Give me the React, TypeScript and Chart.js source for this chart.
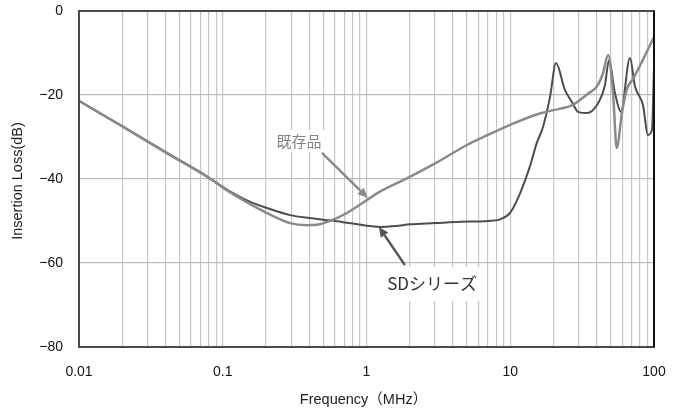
import React, { useEffect, useRef } from 'react';
import { Chart, registerables } from 'chart.js';

Chart.register(...registerables);

// 既存品 (existing product)
const kizonFreq = [0.01, 0.02, 0.043, 0.078, 0.107, 0.15, 0.203, 0.294, 0.386, 0.45, 0.575, 0.73, 1.06, 1.2, 2, 3, 5, 7, 10, 16, 20, 27, 35, 40, 44, 48, 52, 55, 60, 65, 72, 100];
const kizonLoss = [-21.4, -27.5, -34.3, -39.5, -42.7, -45.7, -48.1, -50.5, -51.0, -50.9, -49.8, -48.1, -44.5, -43.3, -39.5, -36.3, -31.9, -29.5, -27.1, -24.4, -23.6, -22.4, -19.6, -18.0, -15.0, -10.5, -20.0, -32.6, -24.0, -18.5, -16.0, -6.2];

// SDシリーズ
const sdFreq = [0.01, 0.02, 0.043, 0.078, 0.107, 0.15, 0.203, 0.294, 0.4, 0.575, 0.8, 1.24, 1.6, 2, 3, 4.5, 7, 8.5, 10, 11.7, 13.7, 15.3, 16.9, 18.9, 20.8, 24, 26.9, 29.6, 34.2, 40.1, 45.6, 48.6, 53.5, 58.9, 68, 73.8, 83.8, 90.7, 96.8, 100];
const sdLoss = [-21.4, -27.4, -34.2, -39.4, -42.5, -45.2, -46.9, -48.6, -49.3, -49.9, -50.6, -51.4, -51.2, -50.8, -50.5, -50.2, -50.0, -49.6, -48.0, -43.4, -37.0, -31.4, -27.6, -20.5, -12.4, -18.8, -21.7, -24.0, -24.3, -22.4, -17.6, -11.7, -19.5, -24.0, -11.2, -18.0, -22.4, -29.5, -28.3, -13.5];

const decadeValues = [0.01, 0.1, 1, 10, 100];
const decadeLabels = ['0.01', '0.1', '1', '10', '100'];
const minorMultipliers = [1, 2, 3, 4, 5, 6, 7, 8, 9];
const yTickValues = [0, -20, -40, -60, -80];

const seriesNames = ['既存品', 'SDシリーズ'];
const xTitle = 'Frequency（MHz）';
const yTitle = 'Insertion Loss(dB)';

// annotation anchors in data units
const kizonLabelAt = { x: 0.339, y: -30.95 };
const kizonArrowFrom = { x: 0.49, y: -33.8 };
const kizonArrowTo = { x: 1.02, y: -44.5 };
const sdLabelAt = { x: 2.86, y: -65.0 };
const sdArrowFrom = { x: 1.85, y: -60.5 };
const sdArrowTo = { x: 1.22, y: -51.4 };

const FONT = '"Liberation Sans", Arial, "Noto Sans CJK JP", sans-serif';
const JFONT = '"Noto Sans CJK JP", "Liberation Sans", sans-serif';

function drawArrow(ctx: CanvasRenderingContext2D, x1: number, y1: number, x2: number, y2: number, color: string, w: number) {
  const ang = Math.atan2(y2 - y1, x2 - x1);
  const hl = 10, hw = 4.5;
  const bx = x2 - hl * Math.cos(ang);
  const by = y2 - hl * Math.sin(ang);
  ctx.strokeStyle = color;
  ctx.fillStyle = color;
  ctx.lineWidth = w;
  ctx.beginPath();
  ctx.moveTo(x1, y1);
  ctx.lineTo(bx, by);
  ctx.stroke();
  ctx.beginPath();
  ctx.moveTo(x2, y2);
  ctx.lineTo(bx + hw * Math.sin(ang), by - hw * Math.cos(ang));
  ctx.lineTo(bx - hw * Math.sin(ang), by + hw * Math.cos(ang));
  ctx.closePath();
  ctx.fill();
}

const overlayPlugin = {
  id: 'overlay',
  afterDatasetsDraw(chart: any) {
    const { ctx, chartArea: a, scales } = chart;
    const xs = scales.x, ys = scales.y;
    ctx.save();
    // frame
    ctx.strokeStyle = '#4a4a4a';
    ctx.lineWidth = 2;
    ctx.strokeRect(a.left, a.top, a.right - a.left, a.bottom - a.top);
    ctx.strokeStyle = '#111';
    ctx.beginPath();
    ctx.moveTo(a.right, a.top);
    ctx.lineTo(a.right, a.bottom);
    ctx.stroke();

    // 既存品 label
    ctx.font = '15px ' + JFONT;
    ctx.textAlign = 'center';
    ctx.textBaseline = 'middle';
    let lx = xs.getPixelForValue(kizonLabelAt.x);
    let ly = ys.getPixelForValue(kizonLabelAt.y);
    let tw = ctx.measureText(seriesNames[0]).width;
    ctx.fillStyle = '#fff';
    ctx.fillRect(lx - tw / 2 - 5, ly - 11, tw + 10, 22);
    ctx.fillStyle = '#858585';
    ctx.fillText(seriesNames[0], lx, ly);
    drawArrow(ctx,
      xs.getPixelForValue(kizonArrowFrom.x), ys.getPixelForValue(kizonArrowFrom.y),
      xs.getPixelForValue(kizonArrowTo.x), ys.getPixelForValue(kizonArrowTo.y),
      '#8a8a8a', 2.5);

    // SD label
    ctx.font = '17px ' + JFONT;
    lx = xs.getPixelForValue(sdLabelAt.x);
    ly = ys.getPixelForValue(sdLabelAt.y);
    tw = ctx.measureText(seriesNames[1]).width;
    ctx.fillStyle = '#fff';
    ctx.fillRect(lx - tw / 2 - 7, ly - 17, tw + 14, 34);
    ctx.fillStyle = '#333';
    ctx.fillText(seriesNames[1], lx, ly);
    drawArrow(ctx,
      xs.getPixelForValue(sdArrowFrom.x), ys.getPixelForValue(sdArrowFrom.y),
      xs.getPixelForValue(sdArrowTo.x), ys.getPixelForValue(sdArrowTo.y),
      '#555', 2.5);

    // axis titles
    ctx.fillStyle = '#222';
    ctx.font = '14.5px ' + FONT;
    ctx.textAlign = 'center';
    ctx.textBaseline = 'middle';
    ctx.fillText(xTitle, (a.left + a.right) / 2 - 3, 400);
    ctx.save();
    ctx.translate(18, (a.top + a.bottom) / 2 + 2);
    ctx.rotate(-Math.PI / 2);
    ctx.fillText(yTitle, 0, 0);
    ctx.restore();
    ctx.restore();
  },
};

export default function App() {
  const ref = useRef<HTMLCanvasElement | null>(null);
  useEffect(() => {
    if (!ref.current) return;
    const gridVals: number[] = [];
    decadeValues.slice(0, -1).forEach((d) => minorMultipliers.forEach((m) => gridVals.push(+(d * m).toPrecision(3))));
    gridVals.push(decadeValues[decadeValues.length - 1]);

    const chart = new Chart(ref.current, {
      type: 'line',
      data: {
        datasets: [
          {
            label: seriesNames[0],
            data: kizonFreq.map((f, i) => ({ x: f, y: kizonLoss[i] })),
            borderColor: '#8a8a8a',
            borderWidth: 2.5,
            pointRadius: 0,
            cubicInterpolationMode: 'monotone',
          },
          {
            label: seriesNames[1],
            data: sdFreq.map((f, i) => ({ x: f, y: sdLoss[i] })),
            borderColor: '#4d4d4d',
            borderWidth: 2,
            pointRadius: 0,
            cubicInterpolationMode: 'monotone',
          },
        ],
      },
      options: {
        animation: false,
        responsive: true,
        maintainAspectRatio: false,
        layout: { padding: { left: 0, top: 11, right: 24, bottom: 0 } },
        plugins: { legend: { display: false }, tooltip: { enabled: false } },
        scales: {
          x: {
            type: 'logarithmic',
            min: 0.01,
            max: 100,
            afterBuildTicks: (s: any) => {
              s.ticks = gridVals.map((v) => ({ value: v }));
            },
            afterFit: (s: any) => {
              s.height = 64;
              s.paddingLeft = 0;
              s.paddingRight = 0;
            },
            ticks: {
              autoSkip: false,
              maxRotation: 0,
              padding: 17,
              color: '#111',
              font: { size: 14, family: FONT },
              callback: (v: any) => {
                const i = decadeValues.findIndex((d) => Math.abs(d - Number(v)) < d * 1e-6);
                return i >= 0 ? decadeLabels[i] : '';
              },
            },
            grid: { color: '#c6c6c6', lineWidth: 1.2, drawTicks: false },
            border: { display: false },
          },
          y: {
            min: -80,
            max: 0,
            afterBuildTicks: (s: any) => {
              s.ticks = yTickValues.map((v) => ({ value: v }));
            },
            afterFit: (s: any) => {
              s.width = 79;
              s.paddingTop = 0;
              s.paddingBottom = 0;
            },
            ticks: {
              padding: 16,
              color: '#111',
              font: { size: 14, family: FONT },
              callback: (v: any) => (Number(v) < 0 ? '−' + Math.abs(Number(v)) : String(v)),
            },
            grid: { color: '#bdbdbd', lineWidth: 1.2, drawTicks: false },
            border: { display: false },
          },
        },
      },
      plugins: [overlayPlugin],
    });
    return () => chart.destroy();
  }, []);

  return (
    <div style={{ position: 'fixed', left: 0, top: 0, width: 678, height: 411, background: '#fff' }}>
      <canvas ref={ref} />
    </div>
  );
}
